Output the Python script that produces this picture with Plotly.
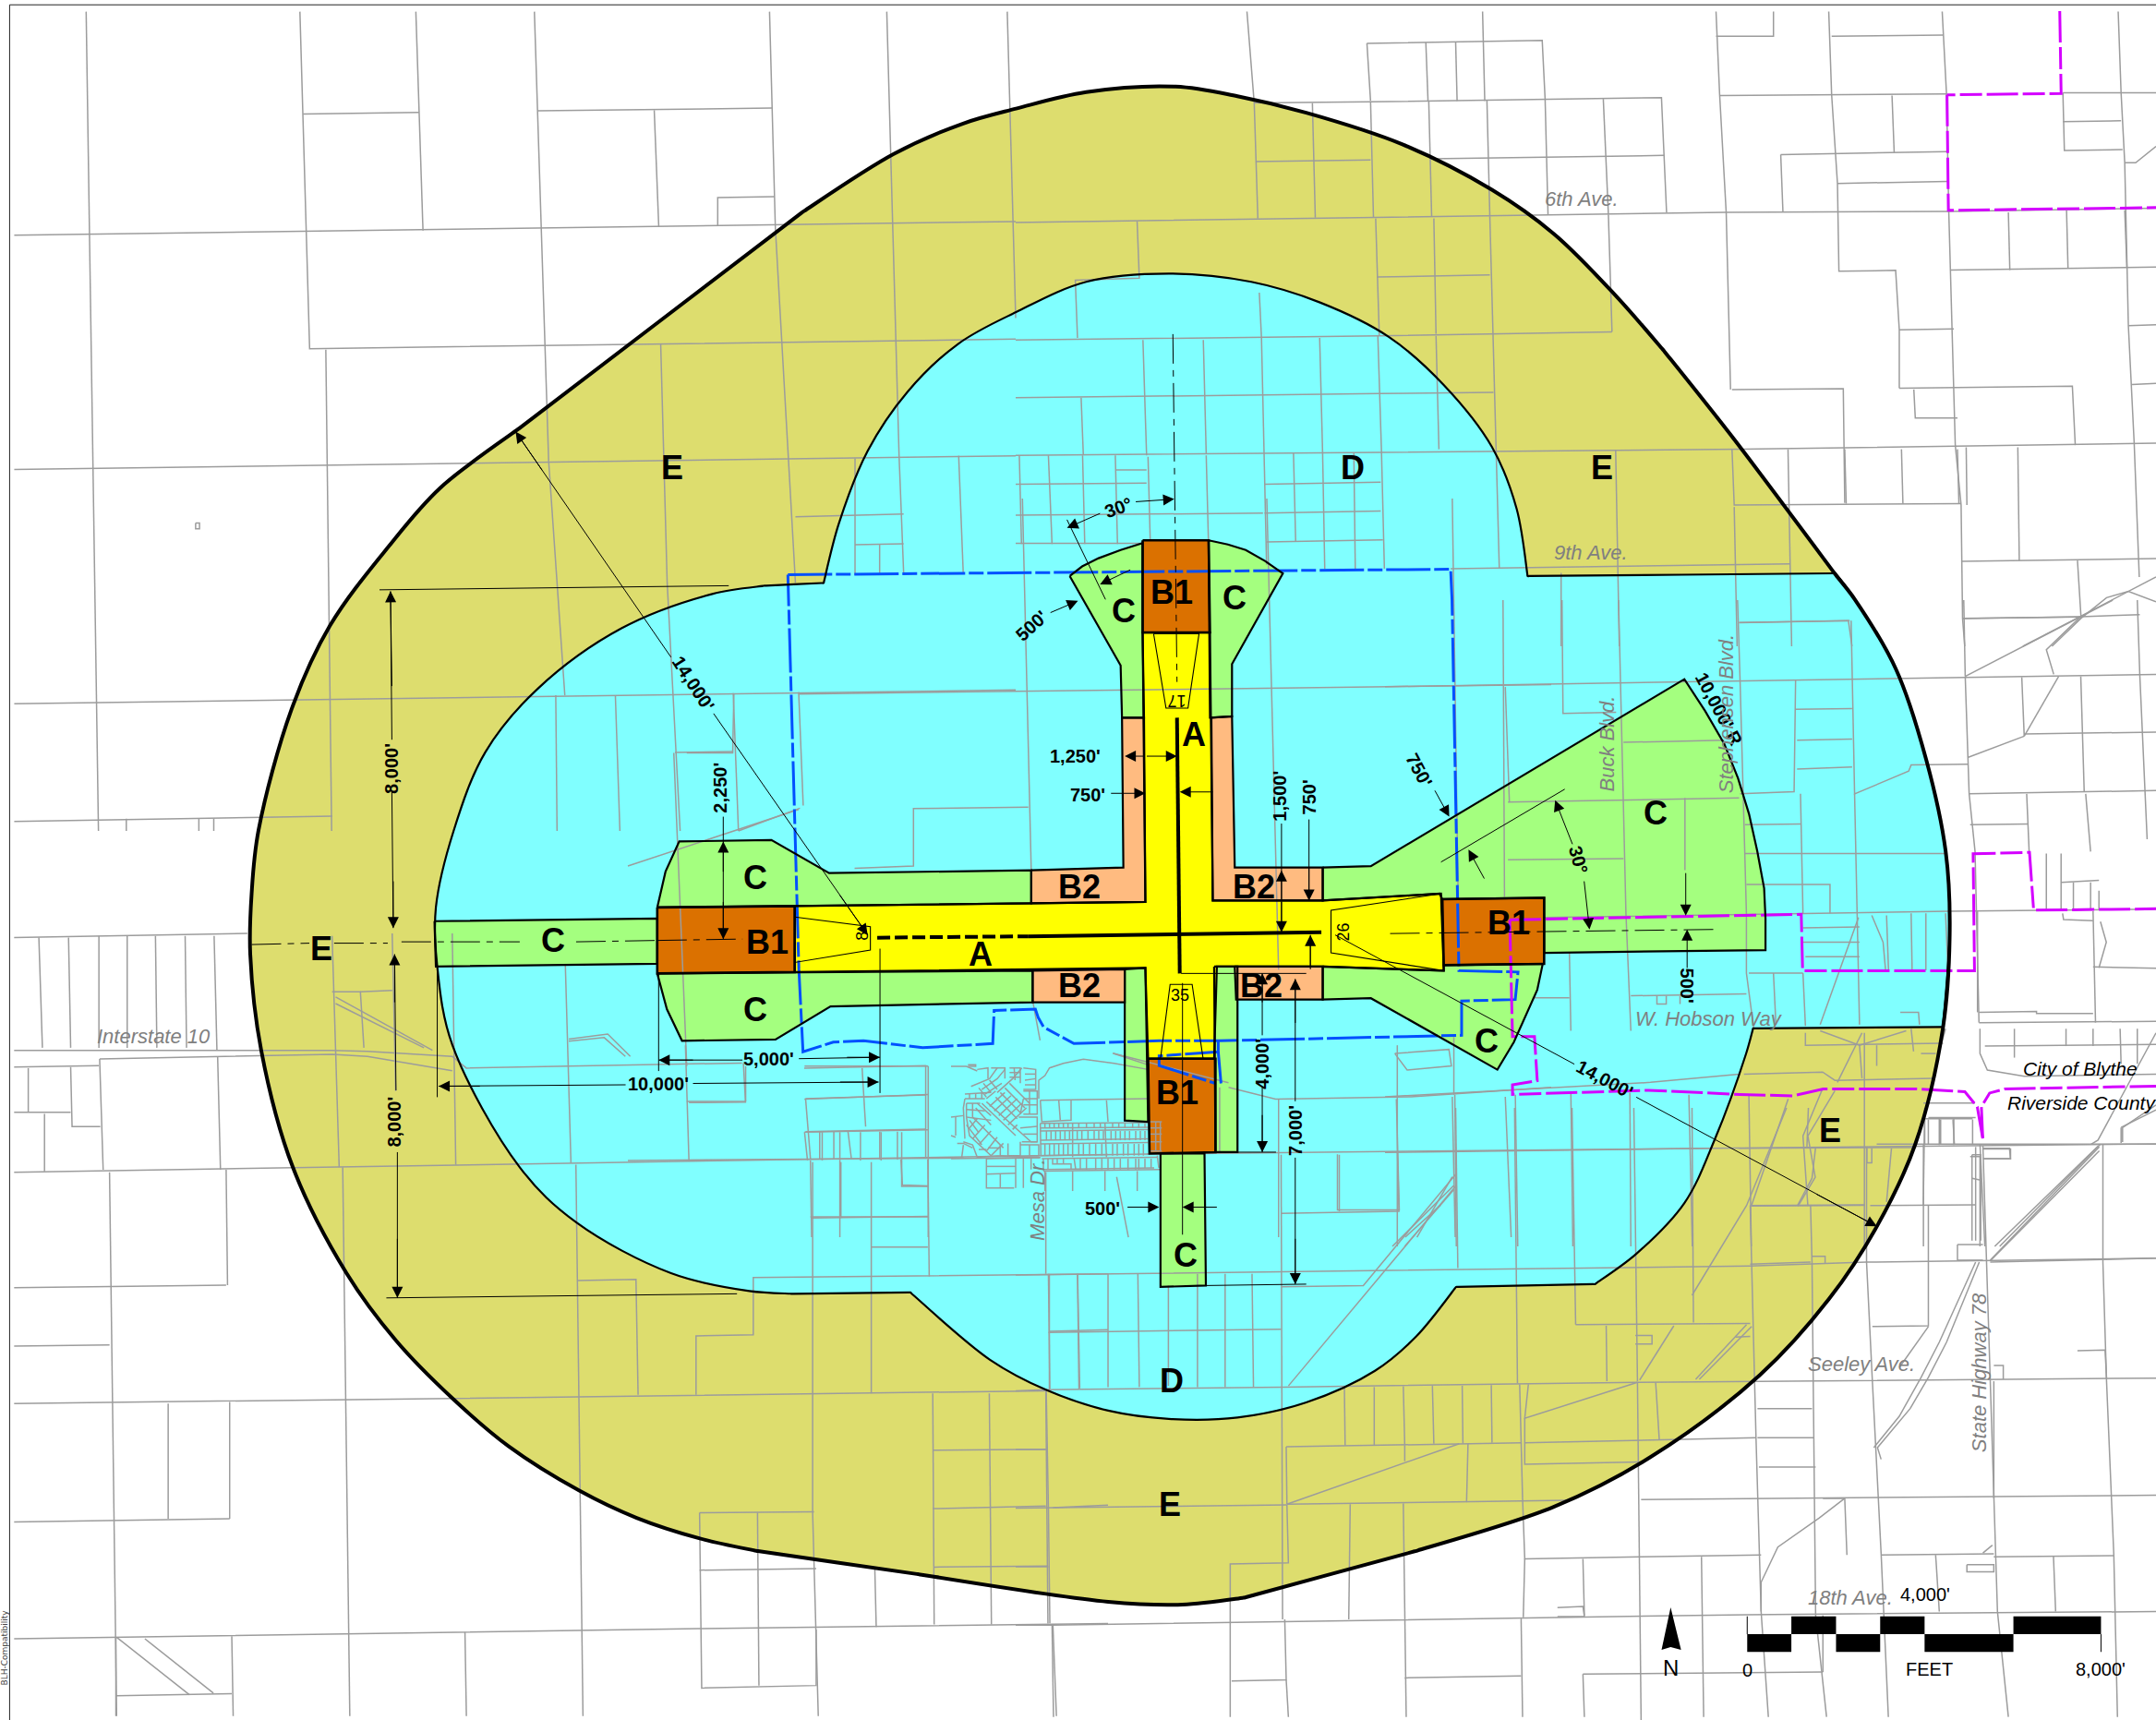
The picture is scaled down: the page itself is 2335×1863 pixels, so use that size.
import plotly.graph_objects as go

W, H = 2335, 1863
XMAX, YMAX = 1568.0, 1251.0
K = XMAX / W

# ---------- zone polygons (map units) ----------
ZONE_E = [(182,694),(183,650),(188,604),(212,516),(240,455),(283,397),(320,355),(377,312),(584,154),(650,112),(700,90),(739,79),(790,67),
          (855,63),(900,70),(950,82),(1020,105),(1085,138),(1130,170),(1175,215),(1210,255),(1260,318),(1335,418),(1349,436),(1379,487),(1401,553),(1415,619),(1418,676),
          (1413,748),(1393,832),(1365,892),(1330,945),(1280,1000),(1200,1060),(1130,1096),(1030,1128),(905,1162),(860,1167),(806,1165),
          (668,1145),(550,1128),(509,1119),(463,1104),(421,1084),(370,1052),(329,1017),(288,975),(252,926),(213,849),(190,764)]
ZONE_E_CORNERS = [(377,312),(584,154),(1210,255),(1335,418),(1030,1128),(905,1162),(668,1145),(550,1128)]
ZONE_D = [(599,424),(610,381),(631,328),(660,285),(697,250),(739,227),(790,205),(850,199),(910,205),(960,220),(1010,245),(1050,280),(1085,325),(1103,370),(1111,419),
          (1335,417),(1349,436),(1379,487),(1401,553),(1415,619),(1418,676),(1413,747),(1275,748),(1270,766),(1247,829),(1225,875),(1190,912),(1160,934),(1059,936),
          (1030,972),(1000,997),(950,1020),(900,1031),(850,1032),(806,1026),(761,1011),(720,989),(662,940),(576,941),(545,939),(488,926),(419,889),(378,849),(329,760),(318,703),
          (317,660),(330,604),(353,547),(391,501),(452,457),(518,432),(556,426)]
ZONE_D_CORNERS = [(599,424),(1111,419),(1335,417),(1413,747),(1275,748),(1160,934),(1059,936),(662,940),(576,941),(556,426)]
ZONE_C = [
    [(316,670),(478,668),(478,701),(317,703)],
    [(478,660),(484,634),(494,612),(561,611),(603,635),(750,633),(750,657),(578,659)],
    [(478,708),(485,734),(496,757),(564,756),(604,732),(751,729),(751,706),(578,707)],
    [(778,419),(787,412),(799,406),(815,400),(831,395),(831,460),(832,522),(816,522),(815,484)],
    [(879,393),(893,396),(906,400),(920,408),(933,417),(896,483),(896,521),(880,522)],
    [(818,705),(833,704),(835,816),(818,815)],
    [(883,703),(900,703),(900,838),(884,838)],
    [(844,839),(876,839),(877,935),(844,936)],
    [(962,631),(997,630),(1225,494),(1240,517),(1254,541),(1264,566),(1272,592),(1278,619),(1283,646),(1284,668),(1284,691),(1123,693),(1123,653),(1049,654),(1047,650),(962,655)],
    [(962,703),(1050,706),(1050,702),(1122,701),(1118,720),(1111,736),(1101,758),(1089,778),(997,726),(962,727)],
]
ZONE_B2 = [
    [(750,633),(817,631),(816,522),(832,522),(833,656),(750,657)],
    [(881,522),(896,521),(898,631),(962,631),(962,655),(882,655)],
    [(751,706),(818,705),(818,729),(751,729)],
    [(898,703),(962,703),(962,727),(899,727)],
]
ZONE_B1 = [
    [(478,660),(578,659),(578,707),(478,708)],
    [(831,393),(879,393),(880,460),(831,460)],
    [(1049,654),(1123,653),(1123,701),(1050,702)],
    [(835,770),(884,770),(884,838),(836,839)],
]
ZONE_A = [(578,659),(748,657),(833,656),(831,460),(880,460),(882,655),(962,655),(1048,650),(1050,706),(962,703),(885,703),(883,770),(835,770),(833,704),(578,707)]
THRESHOLDS = [
    [(578,667),(633,674),(633,691),(578,700)],
    [(839,461),(872,461),(864,515),(848,515)],
    [(1048,650),(968,662),(968,693),(1050,706)],
    [(844,770),(851,716),(867,716),(875,770)],
]
RUNWAY_SOLID = [[(748,681),(961,678)],[(856,522),(858,708)]]
RUNWAY_DASHED = [(638,682),(748,681)]

# ---------- jurisdiction boundaries ----------
BLUE_LINES = [
    [(573,418),(1055,414),(1056,436),(1061,706),(1104,707),(1102,727),(1063,728),(1063,753),(887,757),(843,757),(781,759),(759,747),(755,740),(753,734),(723,735),(722,759),(671,762),(628,757),(606,758),(584,765),(581,705),(573,418)],
    [(886,757),(886,765),(843,768),(843,775),(884,788)],
    [(886,765),(888,788)],
]
MAGENTA_LINES = [
    [(1498,8),(1499,68),(1416,69)],
    [(1416,69),(1417,153),(1568,151)],
    [(1098,669),(1310,665),(1311,706),(1436,706),(1435,621),(1476,620),(1479,662),(1568,661)],
    [(1098,669),(1100,754),(1116,754),(1118,786),(1100,789),(1100,796),(1199,793),(1265,796),(1304,797),(1326,792),(1393,792),(1429,794),(1438,805),(1442,828)],
    [(1442,828),(1441,805),(1447,795),(1458,792),(1568,790)],
]

# ---------- parcel lines, grouped by the source crop they were read from ----------
VIEWS = {"v1":(680,540,1000,800),"v4":(1500,650,835,700),"v5":(0,0,1100,900),"v6":(0,1000,1200,863),"v7":(1100,0,1235,700),"v8":(1100,1200,1235,663),"v9":(1030,1140,522.67,522.67)}
PARCELS_V5 = [
 [133,22,152,1568],[463,22,478,658,1568,640],[503,660,512,1568],[468,215,647,212],[642,22,653,435],[825,22,847,870,872,1312],
 [830,209,1192,204],[1010,208,1017,428],[1188,22,1197,430,1228,1100],[1108,426,1108,373,1196,371],[22,444,1568,418],[22,886,1568,860],
 [1020,650,1030,1100,1050,1568],[1369,22,1388,860,1395,1080],[1555,22,1568,600],[1228,975,1395,970],[1320,865,1320,1085],[1320,1028,1395,1026],
 [1358,1028,1358,1083],[1480,860,1487,1080],[22,1328,1568,1302],[858,1312,860,1568],[950,1312,957,1568],[1132,1308,1140,1568],[1042,1420,1132,1418],
 [1233,1306,1240,1520],[22,1550,513,1540],[195,1545,195,1568],[307,1545,307,1568],[330,1545,330,1568],[302,987,308,987,308,998,302,998,302,987],[1140,1568,1235,1525],
]
PARCELS_V6 = [
 [155,490,165,1560],[20,490,1140,465,1568,455],[20,28,350,20],[55,28,60,245],[97,28,100,245],[140,25,140,245],[180,25,180,245],[220,25,222,245],[262,25,264,245],[303,25,307,250],
 [20,250,470,250,520,252,640,262,660,285,1050,275],[141,267,310,263,470,258,520,262,640,290],[40,285,40,372],[20,283,140,280],[100,283,102,400,142,400],[141,267,146,485],[308,263,312,485],
 [20,372,100,372],[63,375,63,488],[20,717,320,712],[320,485,322,712],[20,832,155,830],[20,945,640,935,1480,920],[238,945,238,1172],[325,942,325,1172],[20,1178,325,1172],
 [20,1408,990,1388,1568,1378],[485,480,495,1560],[815,475,825,1560],[818,703,900,701,903,928],[985,928,985,812,1066,810,1066,697,1568,690],[1150,470,1150,1160,1158,1560],[1233,470,1233,925],
 [990,1160,1152,1158],[990,1160,993,1505,1155,1500,1155,1390],[1072,1160,1074,1500],[990,1273,1155,1270],[1238,1270,1240,1385],[1320,925,1322,1380],[1400,925,1403,1380],[1480,922,1483,1378],
 [1320,1037,1480,1035],[1320,1152,1480,1147],[1322,1267,1483,1265],[1490,1150,1568,1145],[165,1405,268,1518],[205,1408,302,1515],[164,1520,328,1516],[164,1405,164,1560],[328,1403,330,1560],
 [658,1395,660,1560],[1490,1380,1495,1560],[470,25,480,480],[510,135,555,132],[555,20,560,330],[475,145,612,250],[475,158,600,245],[640,20,645,475],[800,80,808,472],[970,240,975,468],
 [1140,345,1147,465],[1220,285,1225,400],[1138,285,1310,280,1310,462],[1140,345,1310,338],[1140,410,1310,405],[1160,410,1160,465],[1180,410,1180,465],[1200,410,1205,465],[1245,410,1245,465],[1270,410,1270,465],
 [975,353,1055,352,1052,275],[1275,465,1277,515,1313,517],[1148,580,1313,577],[1190,470,1190,580],[1233,637,1313,637],[1313,465,1315,695],[805,228,860,218,892,262],[805,232,855,225,885,262],
 [1480,490,1480,690],[1485,690,1485,918],[1525,690,1528,915],[1485,803,1568,800],
 [470,135,510,135,515,245],
]
PARCELS_V1 = [
 [0,780,290,660],[385,785,485,780,485,658,680,655],[670,0,685,790],[688,1070,700,1150],[1085,0,1105,1000],[1400,0,1410,850],[1490,400,1497,645],
 [290,415,1568,395],[300,1205,510,1205],[300,1275,510,1265],[510,1205,510,1400],[300,1345,510,1340],[0,1405,570,1400],
 [1020,1250,1100,1275,1330,1270,1568,1250],[825,1178,1020,1240],
 [300,1345,305,1405],[330,1345,330,1405],[360,1345,360,1405],[395,1345,395,1405],[430,1345,430,1405],[465,1345,465,1405],[310,1405,312,1568],[360,1405,360,1568],[465,1405,465,1460,510,1460],[510,1400,510,1568],[310,1525,510,1525],
 [830,1440,850,1568],[1005,1250,1005,1390],[1105,1275,1105,1568],[1205,1392,1205,1510,1310,1510,1305,1275],[1400,1270,1405,1568],[1490,1270,1500,1568],[1380,1500,1320,1568],[1400,1440,1340,1568],
 [100,540,178,540,180,415],[78,540,100,1205],[200,1205,200,1280],[100,1280,200,1280],
]
PARCELS_V4 = [
 [240,0,243,720],[360,0,362,275,470,272],[0,210,1180,187,1568,180],[475,0,490,760,500,1045],[717,0,722,190,735,760,735,905,750,1040],[485,345,690,340],[250,490,720,480],[250,630,485,627],[610,480,610,655],
 [720,55,945,50],[835,195,832,465,722,470],[835,265,950,263],[838,340,950,337],[838,410,950,405],[948,50,955,470,1065,415,1070,400,1185,398],[955,470,960,755,965,1030],[732,545,845,543],[845,470,850,760],
 [732,615,1140,615],[735,690,905,690,905,760],[325,770,1145,755,1568,750],[740,905,850,905],[790,905,795,1030],[850,905,855,1033],[850,795,965,793],[850,830,965,830],[855,865,965,865],[990,765,1013,830,1018,898],
 [1020,765,1024,898],[1070,760,1072,898],[1100,760,1100,898],[1140,760,1145,898],[963,770,885,1030],[500,960,735,955],[553,960,553,980,572,980,572,960],[600,960,600,980],[1048,1000,1085,1000,1087,1030],[375,855,378,1045],
 [300,965,375,965],[1180,185,1188,470,1200,610,1208,1025],[1177,0,1180,185],[1295,187,1300,330],[1415,185,1422,465],[1530,0,1535,180,1550,580],[1180,185,1415,40,1480,0],[1175,45,1415,40,1535,35],[1300,330,1370,185],[1300,330,1185,382],
 [1188,470,1568,462],[1300,325,1568,320],[1305,470,1310,610],[1190,545,1308,543],[1425,470,1435,610],[1208,1000,1325,998,1325,1003,1440,1003],[1440,755,1445,1025],[1205,755,1205,1000],[1208,1025,1568,1022],[1440,890,1568,893],[1455,780,1467,830,1452,892],
 [1378,760,1380,775,1440,778],[1345,615,1345,750],[1375,615,1375,750],[1375,685,1452,680],[1400,685,1400,750],[1435,685,1435,750],[1452,705,1452,750],[1415,40,1345,120,1360,180],[1210,1040,1210,1100,1225,1140,1300,1155,1568,1150],[1140,1040,1125,1105],
 [1280,1040,1280,1110],[1385,1040,1385,1082],[1440,1040,1440,1082],[1495,1040,1497,1125],[1530,1040,1530,1125],[1220,1082,1568,1078],[1568,1050,1450,1310,1436,1320],[1568,1225,1500,1280,1500,1315],[1095,1320,1095,1568],[1000,1320,1568,1320],[1210,1320,1220,1568],
 [1450,1325,1240,1568],[1455,1320,1250,1568],[745,1470,975,1468],[740,1200,745,1568],[820,1210,745,1470],[890,1185,850,1300,860,1470],[915,1190,860,1300,875,1400,840,1470],[970,1050,920,1170],[720,1330,1080,1328],[975,1050,975,1568],
 [1030,1330,1020,1460],[885,1045,965,1080,1060,1045],[855,1050,855,1080,1135,1075],[1070,1040,1075,1095],[1000,1080,1000,1130],[965,1080,970,1160],[1090,1100,1120,1100],[730,1150,890,1145,915,1165,1115,1160],[1095,1220,1200,1220],
 [1105,1260,1105,1320],[1130,1260,1130,1320],[1155,1260,1158,1320],[1195,1260,1195,1320],[1095,1258,1195,1258],[980,1330,980,1365,990,1365,990,1330],[1190,1350,1210,1350,1210,1568],[1215,1330,1270,1330,1272,1355,1218,1355],
 [265,1200,270,1568],[142,1200,145,1568],[378,1195,382,1568],[498,1195,500,1568],[618,1200,625,1568],[0,1340,660,1330],[15,1568,140,1420],[40,1568,140,1430],[25,1080,25,1568],[140,1060,140,1200],[0,1205,540,1170,720,1150],[20,1100,130,1090,135,1130,45,1140,20,1100],
]
PARCELS_V7 = [
 [318,28,328,250,333,530],[642,28,645,245],[963,28,968,230,977,515,983,945],[1118,28,1122,230,1130,445,1132,658,1210,656,1215,800,1215,942],[1274,28,1280,230,1283,510,1288,800,1292,1080,1300,1225,1302,1500,1305,1568],
 [1516,28,1520,225,1525,395,1530,790,1538,1075,1545,1400],[483,105,724,98,728,240],[483,105,488,245],[564,103,567,245],[605,103,607,245],[328,250,488,247,888,237,895,515],[408,250,412,528],[488,247,492,528],[330,392,488,388],
 [568,245,572,525],[648,243,652,525],[728,240,732,520],[808,240,815,520],[570,385,892,377],[0,540,330,532,975,515,1285,513,1568,505],[167,537,170,675,82,680,85,820],[495,530,500,815],[575,530,578,810],[652,525,660,1090,665,1378],
 [497,672,652,667],[815,520,820,805],[0,825,175,822,500,815,820,805],[578,815,582,1090],[500,955,657,952],[335,710,338,820],[175,825,180,1105],[258,825,262,1100],[338,820,342,1100,345,1370],[418,820,422,1095],[498,815,503,1095,507,1380],
 [90,965,93,1103],[0,965,500,955],[0,1105,1000,1090,1568,1075],[182,1108,185,1310],[262,1105,265,1310],[137,1105,140,1320],[92,1105,95,1320],[45,1105,50,1320],[5,1105,8,1320],[138,1140,180,1140],[0,1175,180,1172],[0,1250,340,1245],
 [342,1175,502,1170],[342,1245,502,1240],[345,1315,505,1310],[382,1100,385,1315],[422,1095,425,1380],[465,1100,467,1380],[0,1318,175,1318],[985,945,1138,943,1140,1220],[985,1090,988,1225,1300,1222],[988,1230,992,1568],[1062,1090,1067,1568],
 [1218,1090,1220,1222],[1295,1090,1297,1222],[1307,1085,1308,1225],[1378,1085,1380,1360],[1300,1362,1568,1355],[1460,1360,1465,1500],[1302,1500,1465,1497],[1385,1568,1568,1400],[1425,1568,1465,1500,1500,1450,1530,1435,1568,1460],
 [825,1092,830,1568],[750,1390,750,1568],[598,1380,1065,1368],[995,1510,1145,1506,1150,1568],[1215,800,1290,798],[1215,942,1453,937,1457,1080],[1235,945,1237,1014,1295,1014],[1122,88,1275,85],[963,88,1042,88,1042,28],[968,232,1280,228],
 [1205,232,1208,370],[1052,375,1280,368],[1052,375,1055,513],[1130,445,1282,440],[1285,655,1568,648],[1365,515,1367,655],[1445,510,1447,650],[1525,510,1528,650],[1440,225,1568,225],[1440,225,1442,365,1522,363],[1440,295,1520,293],
 [1525,395,1540,395,1568,355],[1530,790,1568,788],[1535,933,1568,930],[1140,1090,1142,1222],
]
PARCELS_V8 = [
 [180,118,1330,97,1568,92],[605,0,608,410],[525,115,527,265,365,270],[445,120,445,265],[365,120,367,1310],[686,0,690,705],[765,0,770,555],[850,0,855,700],[930,0,932,550],[0,428,365,420,1010,405,1170,395,1568,385],
 [45,425,47,720],[85,425,87,720],[127,425,127,715],[168,425,170,715],[250,425,250,715],[288,425,288,715],[325,425,327,715],[210,455,210,712],[45,575,365,567],[0,725,40,722,367,715,855,703,1568,692],[605,170,478,455,365,458],[605,200,375,712],
 [770,555,1010,552],[812,558,813,700],[905,558,858,697],[1005,555,935,695],[1012,560,940,695],[852,583,875,583,875,605,852,605],[1010,585,990,587],[452,715,453,865],[493,715,493,865],[533,713,535,865],[573,712,575,860],[614,712,615,860],[654,710,655,858],
 [693,708,697,1000],[705,708,700,795,855,703],[700,795,700,913,858,907],[700,858,1018,845],[855,703,860,1568],[880,703,885,850],[372,868,695,858],[372,868,373,1015],[610,860,373,1015],[622,860,620,1010],[535,865,535,905],[373,1015,760,1005],[0,1025,373,1017],
 [373,1017,375,1165,295,1168,295,1560],[460,1015,458,1310],[533,1013,537,1560],[697,1000,700,1155,860,1150,1025,1145],[780,1155,782,1300],[700,1155,698,1305],[943,1150,946,1560],[745,1280,780,1277,782,1303,745,1303],[0,1325,50,1325,1005,1298,1568,1290],
 [45,1025,47,1320],[0,875,42,875],[42,720,45,1025],[0,1175,45,1175],[370,1310,372,1465,297,1468],[50,1325,52,1560],[535,1460,695,1455],[695,1308,697,1560],[372,1465,375,1560],[780,1450,1110,1445],[780,1450,782,1560],[1110,1300,1110,1445],
 [1010,250,1012,400,1018,845,1025,1290,1035,1560],[1010,250,1168,248],[1093,250,1095,395,1100,1300,1115,1560],[1170,100,1170,395,1178,700,1190,1140,1200,1560],[1250,0,1248,250],[1175,250,1320,248],[1255,250,1255,558,1178,560],[1255,560,1215,665],
 [1060,0,1005,250,930,480],[1100,100,1095,180,1075,250],[1090,0,1088,100],[1330,97,1335,400,1350,1290,1365,1560],[1320,100,1320,340],[1325,395,1280,600,1255,690,1230,770,1185,870,1190,900],[1320,395,1270,600,1245,690,1215,790,1180,870],
 [1490,100,1340,390],[1490,110,1340,392],[1495,92,1495,395,1500,700,1510,1145,1515,1560],[1340,395,1568,385],[1020,770,1095,770],[1020,845,1098,845],[1022,920,1100,920],[860,1003,1568,992],[1190,1145,1345,1142],[1345,1150,1510,1147],[1265,1145,1270,1290],
 [1427,1147,1430,1290],[1345,700,1345,1000],[1345,660,1358,660,1358,695],[1460,622,1498,620,1500,692],[1140,1000,1105,1050,1048,1125,1025,1215,1025,1290],[1110,1000,1140,1000,1143,1145],[1330,1140,1343,1120],[1308,1170,1345,1170,1345,1188,1308,1188,1308,1170],
 [1010,400,1093,395],[1095,380,1113,380,1113,397],[1330,105,1368,105,1368,130,1330,130],[1295,350,1330,350],[1295,390,1330,390],[1295,350,1295,390],[1315,120,1327,120,1327,340],[1315,120,1315,340],[1315,180,1327,185],[1250,25,1250,95],[1270,25,1270,95],[1290,25,1290,95],[1255,25,1320,25],
 [1520,50,1568,5],[1520,50,1520,90],
]
PARCELS_TOWN = [
 [85,55,120,50,120,85],[130,50,175,50,175,85],[190,50,225,50,225,100],[235,50,275,55,275,120,235,120],[115,160,215,250,260,290,280,290],[150,130,200,85,230,50],[100,165,210,270],[115,150,145,125],
 [125,175,175,130],[140,190,195,140],[155,205,215,150],[170,220,230,165],[185,235,245,180],[200,250,215,235],[145,145,215,215],[160,130,225,195],[175,115,240,180],[190,100,255,165],
 [50,165,95,165],[50,185,110,190],[50,210,130,220],[50,165,50,210],[70,165,70,210],[85,165,130,205],[80,180,130,235],[70,210,170,310],[50,210,60,270,130,335],[50,235,100,300],[60,220,90,260],[85,215,60,245],[110,235,70,280],[130,255,90,300],[150,275,115,320],[170,295,130,335],
 [40,290,70,300,85,340,160,335,160,300],[120,310,160,310],[90,315,115,315],[65,110,90,100,125,85,150,50],[100,120,150,85,175,55],[110,135,165,100],[90,115,115,145],[105,100,130,130],[125,90,150,120],[45,135,130,130],[60,135,60,150],[80,135,80,150],[100,130,100,150],[45,150,110,150],[45,150,40,180,45,280],
 [190,65,225,65],[190,80,225,80],[205,50,208,90],[240,70,275,70],[240,90,275,85],[240,105,275,105],[235,125,280,125,280,200,235,200],[235,150,280,150],[235,170,280,170],[255,125,255,200],[235,150,225,200],[220,210,280,210,280,290,230,290],[225,245,280,240],[235,265,280,265],
 [185,295,185,335,225,335,225,290],[255,300,255,335,285,335,285,300,225,300],[160,335,285,340],[290,155,640,150],[290,155,295,225,390,220,390,155],[350,155,355,220],[505,155,510,225],[290,230,640,228],[290,245,640,243],[395,228,395,340],[500,228,505,340],[290,255,640,250],[290,285,640,280],[290,297,640,292],[290,335,640,330],[290,230,292,335],
 [305,230,305,245],[320,230,320,245],[335,230,335,245],[350,230,350,245],[365,230,365,245],[380,230,380,245],[415,230,415,245],[440,230,440,245],[465,230,465,245],[485,230,485,245],[525,230,525,245],[545,230,545,245],[565,230,565,245],[590,230,590,245],[610,230,610,245],[630,230,630,245],
 [310,255,310,285],[325,255,325,285],[340,255,340,285],[355,255,355,285],[370,255,370,285],[385,255,385,285],[410,255,410,285],[425,255,425,285],[445,255,445,285],[465,255,465,285],[480,255,480,285],[495,255,495,285],[520,255,520,285],[535,255,535,285],[550,255,550,285],[565,255,565,285],[580,255,580,285],[600,255,600,285],[615,255,615,285],[630,255,630,285],
 [305,297,305,335],[320,297,320,335],[335,297,335,335],[350,297,350,335],[365,297,365,335],[380,297,380,335],[415,297,415,335],[430,297,430,335],[450,297,450,335],[470,297,470,335],[490,297,490,335],[525,297,525,335],[540,297,540,335],[560,297,560,335],[575,297,575,335],[595,297,595,335],[610,297,610,335],[625,297,625,335],
 [295,345,670,340],[300,380,660,375],[300,345,300,380],[330,345,330,362,390,362,390,380],[400,345,405,380],[420,345,420,380],[440,345,440,380],[470,345,470,380],[490,345,490,380],[510,345,510,380],[530,345,530,380],[550,345,550,380],[575,345,575,380],[600,345,600,380],[610,345,610,380],[630,345,630,375],[650,345,650,375],[670,335,675,375],[315,345,315,380],[345,345,345,362],[365,345,365,362],
 [645,225,685,225],[645,245,685,245],[645,265,685,265],[645,290,685,290],[645,320,685,320],[665,225,665,320],[680,225,680,320],[115,345,290,342],[115,345,115,440,205,440],[115,370,210,370],[115,395,210,392],[160,395,160,440],[210,345,210,440],[235,345,235,440],[260,340,260,380],[305,385,305,450],[395,385,395,450],[500,385,500,450],[605,385,605,450],[300,385,680,380],[0,345,290,340],
 [285,150,285,90,305,75,320,50,365,35,430,22,530,35,640,55],[525,2,640,40],[0,45,50,45,85,60],[55,40,80,40,80,45,55,45],[0,210,40,205],[0,270,15,275],[15,210,15,270],[20,295,40,295,70,310],[40,300,35,340],
]
PARCEL_GROUPS = [("v1",PARCELS_V1),("v4",PARCELS_V4),("v5",PARCELS_V5),("v6",PARCELS_V6),("v7",PARCELS_V7),("v8",PARCELS_V8),("v9",PARCELS_TOWN)]

# ---------- dimensioning ----------
DIM_LINES = [
 [(276,429),(530,426)],[(281,944),(536,941)],[(285,576),(286,675)],[(287,694),(288,793)],[(289,838),(289,944)],[(284,430),(285,538)],
 [(375,314),(488,478)],[(519,519),(631,680)],[(971,680),(1145,774)],[(1190,798),(1365,892)],
 [(479,708),(479,779)],[(640,690),(640,795)],[(318,703),(318,798)],[(479,771),(540,771)],[(581,770),(640,769)],[(319,790),(455,789)],[(504,788),(639,787)],
 [(526,594),(526,683)],[(776,378),(804,436)],[(1048,627),(1138,574)],[(885,838),(928,838)],[(877,935),(950,934)],[(859,708),(950,708)],
 [(932,599),(932,678)],[(952,596),(952,655)],[(953,680),(953,705)],[(918,708),(918,753)],[(918,791),(918,838)],[(942,712),(942,801)],[(942,842),(942,934)],[(860,715),(860,898)],
]
CENTER_LINES = [
 [(183,687),(225,686)],[(243,686),(282,686)],[(292,685),(378,685)],[(419,685),(478,684)],[(478,684),(540,683)],
 [(853,243),(856,496)],[(1011,679),(1247,676)],
]
ARROWS = [  # tail x, tail y, head x, head y
 (285,500,284,430),(286,640,286,675),(287,730,287,694),(289,900,289,944),(395,343,375,314),(610,650,631,680),(1320,868,1365,892),
 (505,771,479,771),(615,769,640,769),(350,790,319,790),(610,787,639,787),(526,635,526,612),(526,655,526,683),
 (763,446,784,437),(801,373,776,384),(825,365,854,363),(823,414,800,425),
 (833,550,818,550),(833,550,856,550),(807,577,833,577),(883,576,858,576),
 (932,655,932,633),(932,655,932,678),(952,630,952,655),(953,705,953,680),(918,730,918,708),(918,810,918,838),(942,745,942,712),(942,900,942,934),
 (819,878,843,878),(886,878,860,878),(1043,574,1054,594),(1080,640,1068,618),(1144,615,1131,582),(1152,640,1156,676),(1226,634,1226,666),(1227,705,1227,676),
]
DIM_TEXT = [  # text, x, y, angle
 ("14,000'",504,497,57),("14,000'",1167,785,28),("8,000'",285,559,-90),("8,000'",287,816,-90),("5,000'",559,770,0),("10,000'",479,788,0),
 ("2,250'",524,573,-90),("500'",750,455,-42),("30°",813,369,-20),("1,250'",782,550,0),("750'",791,578,0),("1,500'",931,579,-90),("750'",952,580,-90),
 ("4,000'",918,774,-90),("7,000'",942,822,-90),("500'",802,879,0),("750'",1032,560,62),("30°",1148,625,75),("500'",1227,717,90),("10,000' R",1250,516,62),
]
ZONE_TEXT = [("E",489,340),("D",984,340),("E",1165,340),("C",817,444),("B1",852,431),("C",898,435),("A",868,534),("C",549,638),("B2",785,645),("B2",912,645),
 ("C",1204,591),("E",234,690),("C",402,684),("B1",558,685),("A",713,694),("B1",1097,671),("B2",785,717),("B2",917,717),("C",549,734),("C",1081,757),("B1",856,795),
 ("E",1331,822),("C",862,913),("D",852,1004),("E",851,1094)]
RUNWAY_NUMBERS = [("8",627,681,-90),("17",856,510,180),("26",977,678,-90),("35",858,724,0)]
ROAD_TEXT = [("6th Ave.",1150,145,0),("9th Ave.",1157,402,0),("Interstate 10",112,754,0),("W. Hobson Way",1243,741,0),("Buck Blvd.",1169,541,-90),("Stephensen Blvd.",1256,519,-90),
 ("Mesa Dr.",754,873,-90),("Seeley Ave.",1354,992,0),("State Highway 78",1439,998,-90),("18th Ave.",1346,1162,0)]
PLACE_TEXT = [("City of Blythe",1513,777),("Riverside County",1514,802)]
SCALE_TEXT = [("4,000'",1400,1160),("0",1271,1215),("FEET",1403,1214),("8,000'",1528,1214)]
SCALE_EDGES = [1270.7,1302.8,1335.3,1367.4,1399.7,1464.3,1528]
SCALE_ROWS = [1175.6,1188.6,1201.5]
NORTH_ARROW = [(1215,1169),(1222.6,1200),(1215,1198),(1208.4,1200)]
FRAME = [(1568,3.5),(7,3.5),(7,1251)]


def multi(lines):
    xs, ys = [], []
    for ln in lines:
        for p in ln:
            xs.append(p[0]); ys.append(p[1])
        xs.append(None); ys.append(None)
    return xs, ys

def view_to_map(view, flat):
    x0, y0, w, h = VIEWS[view]
    return [((x0 + flat[i] * w / 1568) * K, (y0 + flat[i+1] * h / 1568) * K) for i in range(0, len(flat), 2)]

def closed(p):
    return list(p) + [p[0]]

def guarded(poly, corners, d=1.2):
    """Keep marked vertices crisp when the outline is drawn as a spline."""
    out = []
    n = len(poly)
    for i, p in enumerate(poly):
        if p in corners:
            for q in (poly[i-1], None, poly[(i+1) % n]):
                if q is None:
                    out.append(p)
                    continue
                dx, dy = q[0]-p[0], q[1]-p[1]
                L = (dx*dx+dy*dy)**0.5
                out.append((p[0]+dx/L*d, p[1]+dy/L*d))
        else:
            out.append(p)
    return out

fig = go.Figure()

def fill(poly, color, shape="linear"):
    pts = closed(poly)
    fig.add_trace(go.Scatter(x=[p[0] for p in pts], y=[p[1] for p in pts], mode="lines", fill="toself", fillcolor=color,
                             line=dict(width=0, shape=shape), hoverinfo="skip"))

def stroke(lines, color, width, dash=None, shape="linear"):
    x, y = multi(lines)
    fig.add_trace(go.Scatter(x=x, y=y, mode="lines", line=dict(color=color, width=width, dash=dash, shape=shape), hoverinfo="skip", connectgaps=False))

E_PATH = guarded(ZONE_E, ZONE_E_CORNERS)
D_PATH = guarded(ZONE_D, ZONE_D_CORNERS)

fill(E_PATH, "#DDDD6E", "spline")
fill(D_PATH, "#80FFFF", "spline")
for p in ZONE_C: fill(p, "#A4FF7F")
for p in ZONE_B2: fill(p, "#FFBB80")
fill(ZONE_A, "#FFFF00")
for p in ZONE_B1: fill(p, "#DB7100")

parcels = []
for view, group in PARCEL_GROUPS:
    parcels += [view_to_map(view, f) for f in group]
stroke(parcels, "#9C9C9C", 1.5)

stroke(BLUE_LINES, "#0050FF", 3, "48px,4px,16px,4px")
stroke(MAGENTA_LINES, "#D400FF", 3, "34px,5px,24px,5px")

stroke([closed(E_PATH)], "#000000", 4, shape="spline")
stroke([closed(D_PATH)], "#000000", 2.2, shape="spline")
stroke([closed(p) for p in ZONE_C + ZONE_B2], "#000000", 2.2)
stroke([closed(ZONE_A)], "#000000", 2.2)
stroke([closed(p) for p in ZONE_B1], "#000000", 2.6)
stroke([closed(p) for p in THRESHOLDS], "#000000", 1.1)
stroke(RUNWAY_SOLID, "#000000", 4)
stroke([RUNWAY_DASHED], "#000000", 4, "14px,5px")
stroke(DIM_LINES, "#000000", 1)
stroke(CENTER_LINES, "#000000", 1, "32px,7px,7px,7px")
stroke([FRAME], "#222222", 1)

# scale bar
for i in range(6):
    top, bot = (SCALE_ROWS[1], SCALE_ROWS[2]) if i % 2 == 0 else (SCALE_ROWS[0], SCALE_ROWS[1])
    fill([(SCALE_EDGES[i], top), (SCALE_EDGES[i+1], top), (SCALE_EDGES[i+1], bot), (SCALE_EDGES[i], bot)], "#000000")
stroke([[(SCALE_EDGES[0], SCALE_ROWS[0]), (SCALE_EDGES[0], SCALE_ROWS[1])], [(SCALE_EDGES[-1], SCALE_ROWS[1]), (SCALE_EDGES[-1], SCALE_ROWS[2])]], "#000000", 1)
fill(NORTH_ARROW, "#000000")

ann = []
SANS = "Liberation Sans"
def label(text, x, y, size, color="#000000", angle=0, bold=False, italic=False):
    t = text
    if italic: t = f"<i>{t}</i>"
    if bold: t = f"<b>{t}</b>"
    ann.append(dict(x=x, y=y, text=t, showarrow=False, textangle=angle, xanchor="center", yanchor="middle",
                    font=dict(family=SANS, size=size, color=color)))

for tx, ty, hx, hy in ARROWS:
    ann.append(dict(x=hx, y=hy, ax=tx, ay=ty, xref="x", yref="y", axref="x", ayref="y", text="", showarrow=True,
                    arrowhead=2, arrowsize=2.4, arrowwidth=1, arrowcolor="#000000"))
for t, x, y in ZONE_TEXT: label(t, x, y, 36, bold=True)
for t, x, y, a in DIM_TEXT: label(t, x, y, 20, angle=a, bold=True)
for t, x, y, a in RUNWAY_NUMBERS: label(t, x, y, 18, angle=a)
for t, x, y, a in ROAD_TEXT: label(t, x, y, 22, color="#808080", angle=a, italic=True)
for t, x, y in PLACE_TEXT: label(t, x, y, 21, italic=True)
for t, x, y in SCALE_TEXT: label(t, x, y, 20)
label("N", 1215, 1213, 24)
ann.append(dict(x=3.6, y=1198, text="BLH-Compatibility", showarrow=False, textangle=-90, xanchor="center", yanchor="middle", borderpad=0, borderwidth=0,
                font=dict(family="DejaVu Sans", size=9, color="#444444")))

fig.update_layout(
    width=W, height=H, autosize=False, showlegend=False, template=None,
    margin=dict(l=0, r=0, t=0, b=0), paper_bgcolor="#FFFFFF", plot_bgcolor="#FFFFFF",
    xaxis=dict(range=[0, XMAX], visible=False, fixedrange=True),
    yaxis=dict(range=[YMAX, 0], visible=False, fixedrange=True),
    annotations=ann,
)
fig.write_html("out.html", config={"displayModeBar": False},
               post_script="document.body.style.margin='0';document.documentElement.style.overflow='hidden';")
